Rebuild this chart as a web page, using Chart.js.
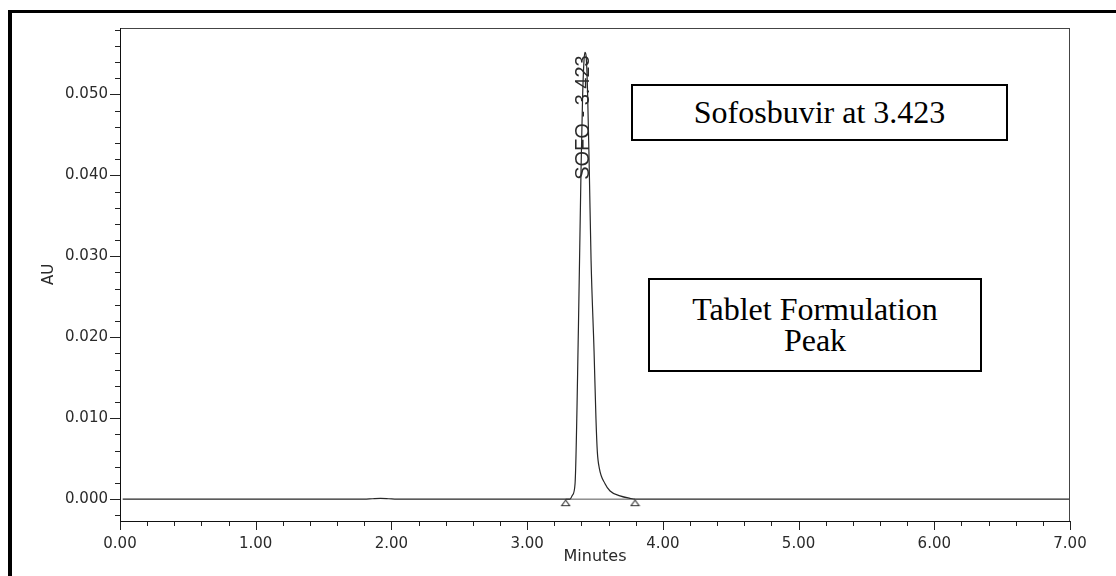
<!DOCTYPE html>
<html>
<head>
<meta charset="utf-8">
<title>Sofosbuvir chromatogram</title>
<script src="https://cdn.jsdelivr.net/npm/chart.js@4/dist/chart.umd.min.js"></script>
<style>
  html, body { margin: 0; padding: 0; background: #fff; overflow: hidden; }
  #wrap { position: relative; width: 1116px; height: 576px; }
  #chart { position: absolute; left: 0; top: 0; }
  .frame {
    position: absolute; left: 8px; top: 10px; width: 1200px; height: 700px;
    border-left: 4px solid #000; border-top: 3px solid #000; pointer-events: none;
  }
  .note {
    position: absolute; box-sizing: border-box; border: 2px solid #000; background: #fff;
    font-family: "Liberation Serif", "Times New Roman", serif; font-size: 32px; color: #000;
    display: flex; flex-direction: column; align-items: center; justify-content: center; text-align: center;
  }
  #note1 { left: 631px; top: 84px; width: 377px; height: 57px; line-height: 1.15; }
  #note2 { left: 648px; top: 278px; width: 334px; height: 94px; line-height: 31px; }
</style>
</head>
<body>
<div id="wrap">
  <canvas id="chart" width="1116" height="576"></canvas>
  <div class="frame"></div>
  <div class="note" id="note1">Sofosbuvir at 3.423</div>
  <div class="note" id="note2"><div>Tablet Formulation</div><div>Peak</div></div>
</div>
<script>
// Detector trace (retention time in minutes, absorbance in AU)
const times = [0.02, 1.80, 1.86, 1.92, 1.98, 2.04, 3.316, 3.334, 3.353, 3.378, 3.397, 3.408, 3.419, 3.426,
               3.434, 3.445, 3.458, 3.471, 3.493, 3.507, 3.517, 3.532, 3.574, 3.611, 3.684, 3.758, 3.802, 7.00];
const au    = [0, 0, 0.00005, 0.00009, 0.00005, 0, 0, 0.0005, 0.0019, 0.0213, 0.0406, 0.0493, 0.0542, 0.0552,
               0.0548, 0.0505, 0.0406, 0.0295, 0.0183, 0.0100, 0.0059, 0.0038, 0.0019, 0.0010, 0.0004, 0.0001, 0, 0];

// Integration start / end of the SOFO peak
const integTimes = [3.284, 3.795];
const integAu    = [0, 0];

// Peak label
const peakName = 'SOFO';
const peakRT = 3.423;

// Axes
const xMin = 0, xMax = 7;
const yMin = -0.0027, yMax = 0.0582;
const xMajorTicks = [0, 1, 2, 3, 4, 5, 6, 7];
const yMajorTicks = [0, 0.01, 0.02, 0.03, 0.04, 0.05];
const xMinorStep = 0.2;
const yMinorStep = 0.002;
const xTitle = 'Minutes';
const yTitle = 'AU';

const xMinorTicks = [];
for (let i = 0; xMin + i * xMinorStep <= xMax + 1e-9; i++) xMinorTicks.push(+(xMin + i * xMinorStep).toFixed(4));
const yMinorTicks = [];
for (let i = -1; i * yMinorStep <= yMax + 1e-9; i++) yMinorTicks.push(+(i * yMinorStep).toFixed(5));

const trace = times.map((t, i) => ({ x: t, y: au[i] }));
const integPoints = integTimes.map((t, i) => ({ x: t, y: integAu[i] }));

// Open triangle marker sitting just under the baseline
const tri = document.createElement('canvas');
tri.width = 11; tri.height = 16;
(function () {
  const c = tri.getContext('2d');
  c.strokeStyle = '#333'; c.lineWidth = 1.1;
  c.beginPath();
  c.moveTo(5.5, 9); c.lineTo(1.5, 14.5); c.lineTo(9.5, 14.5); c.closePath();
  c.stroke();
})();

const axisLines = {
  id: 'axisLines',
  afterDraw(chart) {
    const { ctx, chartArea: a, scales: { x, y } } = chart;
    ctx.save();
    ctx.strokeStyle = '#222';
    ctx.lineWidth = 1;
    ctx.beginPath();
    yMinorTicks.forEach(v => {
      const p = Math.round(y.getPixelForValue(v)) + 0.5;
      ctx.moveTo(a.left - 5, p); ctx.lineTo(a.left, p);
    });
    yMajorTicks.forEach(v => {
      const p = Math.round(y.getPixelForValue(v)) + 0.5;
      ctx.moveTo(a.left - 10, p); ctx.lineTo(a.left, p);
    });
    xMinorTicks.forEach(v => {
      const p = Math.round(x.getPixelForValue(v)) + 0.5;
      ctx.moveTo(p, a.bottom); ctx.lineTo(p, a.bottom + 5);
    });
    xMajorTicks.forEach(v => {
      const p = Math.round(x.getPixelForValue(v)) + 0.5;
      ctx.moveTo(p, a.bottom); ctx.lineTo(p, a.bottom + 9);
    });
    ctx.stroke();
    // plot frame
    ctx.strokeStyle = '#444';
    ctx.strokeRect(Math.round(a.left) + 0.5, Math.round(a.top) + 0.5,
                   Math.round(a.right - a.left) - 1, Math.round(a.bottom - a.top));
    ctx.strokeStyle = '#111';
    ctx.beginPath();
    ctx.moveTo(Math.round(a.left) + 0.5, a.top); ctx.lineTo(Math.round(a.left) + 0.5, a.bottom + 1);
    ctx.moveTo(a.left, Math.round(a.bottom) + 0.5); ctx.lineTo(a.right, Math.round(a.bottom) + 0.5);
    ctx.stroke();

    // peak name and retention time, written upward from the apex
    const apex = Math.max(...au);
    const px = x.getPixelForValue(peakRT);
    const py = y.getPixelForValue(apex);
    ctx.translate(px - 1.5, py + 3);
    ctx.rotate(-Math.PI / 2);
    ctx.font = '20px "Liberation Sans", Arial, sans-serif';
    ctx.fillStyle = '#2a2a2a';
    ctx.textAlign = 'right';
    ctx.textBaseline = 'middle';
    ctx.fillText(peakName + ' - ' + peakRT.toFixed(3), 0, 0);
    ctx.restore();
  }
};

const tickFont = { family: '"DejaVu Sans", sans-serif', size: 15 };

new Chart(document.getElementById('chart'), {
  type: 'scatter',
  data: {
    datasets: [
      { data: trace, showLine: true, borderColor: '#262626', borderWidth: 1.2, pointRadius: 0,
        cubicInterpolationMode: 'monotone' },
      { data: integPoints, showLine: true, borderColor: '#555', borderWidth: 1, pointRadius: 0 },
      { data: integPoints, showLine: false, pointStyle: tri, pointRadius: 5 }
    ]
  },
  options: {
    responsive: false,
    animation: false,
    events: [],
    layout: { padding: { left: 0, right: 46, top: 28, bottom: 0 } },
    plugins: { legend: { display: false }, tooltip: { enabled: false } },
    scales: {
      x: {
        type: 'linear', min: xMin, max: xMax,
        afterBuildTicks: s => { s.ticks = xMajorTicks.map(v => ({ value: v })); },
        afterFit: s => { s.height = 55; },
        grid: { display: false, drawTicks: false },
        border: { display: false },
        ticks: { padding: 14, color: '#2a2a2a', font: tickFont, maxRotation: 0,
                 callback: v => Number(v).toFixed(2) },
        title: { display: true, text: xTitle, color: '#2a2a2a',
                 font: { family: '"DejaVu Sans", sans-serif', size: 16 }, padding: { top: 0, bottom: 10 } }
      },
      y: {
        type: 'linear', min: yMin, max: yMax,
        afterBuildTicks: s => { s.ticks = yMajorTicks.map(v => ({ value: v })); },
        afterFit: s => { s.width = 120; },
        grid: { display: false, drawTicks: false },
        border: { display: false },
        ticks: { padding: 12, color: '#2a2a2a', font: tickFont,
                 callback: v => Number(v).toFixed(3) },
        title: { display: true, text: yTitle, color: '#2a2a2a',
                 font: { family: '"DejaVu Sans", sans-serif', size: 15 }, padding: { top: 40, bottom: 0 } }
      }
    }
  },
  plugins: [axisLines]
});
</script>
</body>
</html>
